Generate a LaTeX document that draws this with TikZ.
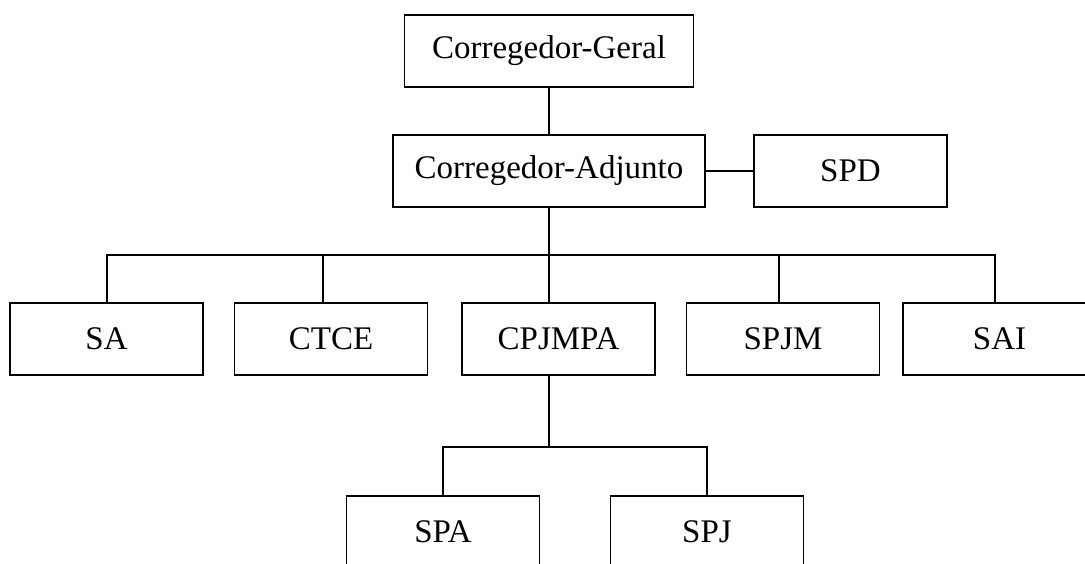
\documentclass[tikz,border=0pt]{standalone}
\usepackage{fontspec}
\setmainfont{Liberation Serif}
\begin{document}
\begin{tikzpicture}[x=1pt,y=-1pt,
  box/.style={draw, line width=1.8pt, minimum width=193pt, minimum height=72pt, inner sep=0pt, font=\fontsize{33}{40}\selectfont},
  link/.style={line width=1.8pt}]
\path[use as bounding box] (0,0) rectangle (1085,563);
\clip (0,0) rectangle (1085,563);
% boxes
\node[box, minimum width=289pt] (cg) at (549,51) {Corregedor-Geral};
\node[box, minimum width=312pt] (ca) at (549,171) {Corregedor-Adjunto};
\node[box] (spd) at (850.5,171) {SPD};
\node[box] (sa) at (106.5,339) {SA};
\node[box] (ctce) at (331,339) {CTCE};
\node[box] (cpj) at (558.5,339) {CPJMPA};
\node[box] (spjm) at (783,339) {SPJM};
\node[box] (sai) at (999.5,339) {SAI};
\node[box] (spa) at (443,532) {SPA};
\node[box] (spj) at (707,532) {SPJ};
% junctions
\coordinate (b1) at (549,255);
\coordinate (b2) at (549,447);
% connectors
\draw[link] (cg.south) -- (ca.north);
\draw[link] (ca.east) -- (spd.west);
\draw[link] (ca.south) -- (b1);
\draw[link] (b1) -| ([xshift=0.5pt]sa.north);
\draw[link] (b1) -| ([xshift=-8pt]ctce.north);
\draw[link] (b1) -- ([xshift=-9.5pt]cpj.north);
\draw[link] (b1) -| ([xshift=-4pt]spjm.north);
\draw[link] (b1) -| ([xshift=-4.5pt]sai.north);
\draw[link] ([xshift=-9.5pt]cpj.south) -- (b2);
\draw[link] (b2) -| (spa.north);
\draw[link] (b2) -| (spj.north);
\end{tikzpicture}
\end{document}
